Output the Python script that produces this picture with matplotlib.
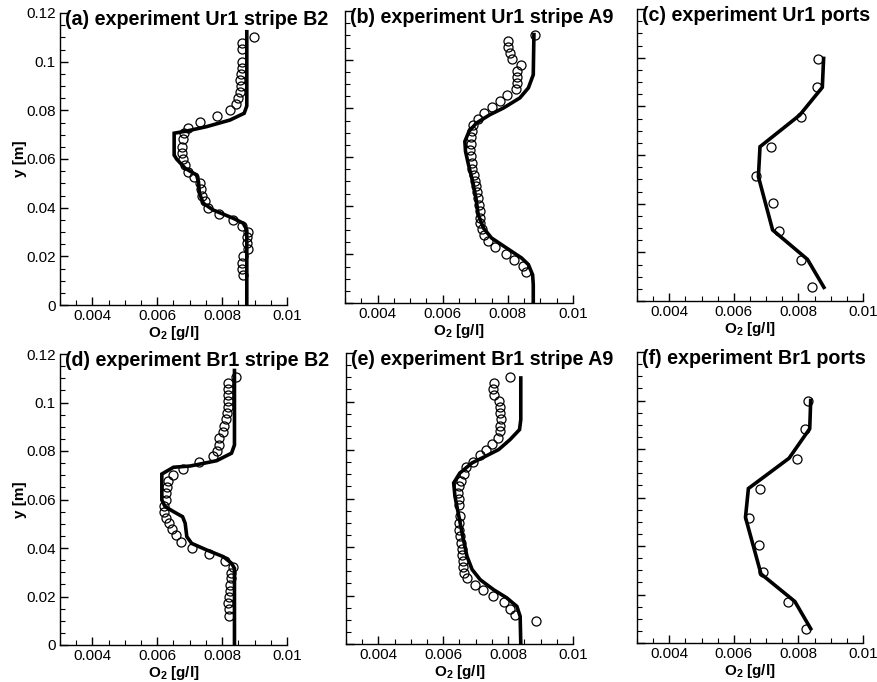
import matplotlib
matplotlib.use('Agg')
import matplotlib.pyplot as plt
from matplotlib.ticker import MultipleLocator, FormatStrFormatter

plt.rcParams['font.family'] = ['Liberation Sans', 'DejaVu Sans']
plt.rcParams['mathtext.fontset'] = 'custom'
plt.rcParams['mathtext.rm'] = 'Liberation Sans'
plt.rcParams['mathtext.bf'] = 'Liberation Sans:bold'

# (a) experiment Ur1 stripe B2
a_line_o2 = [0.00876, 0.00876, 0.00868, 0.00824, 0.00752, 0.00691, 0.00652, 0.00652, 0.0066, 0.00686,
             0.00721, 0.00727, 0.0073, 0.00742, 0.00773, 0.00835, 0.00865, 0.00876, 0.00876]
a_line_y = [0.1123, 0.0818, 0.0788, 0.0760, 0.0733, 0.0715, 0.0706, 0.0616, 0.0599, 0.0562,
            0.0534, 0.0507, 0.0459, 0.0418, 0.0390, 0.0356, 0.0336, 0.0308, 0.0]
a_obs_o2 = [0.00898, 0.0086, 0.00862, 0.0086, 0.00862, 0.00857, 0.00855, 0.00857, 0.00855, 0.0085,
            0.00843, 0.00824, 0.00785, 0.00732, 0.00696, 0.00683, 0.00678, 0.00675, 0.00675, 0.0068,
            0.00686, 0.00694, 0.00714, 0.00732, 0.00735, 0.00739, 0.00747, 0.00757, 0.0079, 0.00835,
            0.00862, 0.00881, 0.00878, 0.00878, 0.00881, 0.00865, 0.00862, 0.00862, 0.00865]
a_obs_y = [0.1103, 0.1078, 0.1051, 0.1, 0.0973, 0.0949, 0.0925, 0.09, 0.0877, 0.0849,
           0.0826, 0.0801, 0.0777, 0.0752, 0.0729, 0.0706, 0.0681, 0.0651, 0.0623, 0.0599,
           0.0575, 0.0548, 0.0525, 0.05, 0.0475, 0.0449, 0.0427, 0.0397, 0.0375, 0.0349,
           0.0325, 0.0301, 0.0278, 0.0253, 0.0229, 0.0201, 0.0171, 0.0147, 0.0123]

# (b) experiment Ur1 stripe A9
b_line_o2 = [0.0088, 0.00878, 0.00863, 0.00837, 0.00786, 0.00745, 0.00704, 0.00681, 0.00668, 0.0067, 0.00679,
             0.00692, 0.00702, 0.00709, 0.00725, 0.0075, 0.00796, 0.00842, 0.00863, 0.00876, 0.00878, 0.00878]
b_line_y = [0.1103, 0.0938, 0.0884, 0.0843, 0.0801, 0.0774, 0.074, 0.0706, 0.0664, 0.0623, 0.0569,
            0.05, 0.0432, 0.0363, 0.0308, 0.0267, 0.0226, 0.0185, 0.0158, 0.0116, 0.0075, 0.0]
b_obs_o2 = [0.00883, 0.00799, 0.00801, 0.00806, 0.00812, 0.0084, 0.00827, 0.00827, 0.00827, 0.00825,
            0.00796, 0.00776, 0.00752, 0.00728, 0.00709, 0.00694, 0.00689, 0.00686, 0.00686, 0.00685,
            0.00686, 0.00689, 0.00691, 0.00696, 0.00699, 0.00701, 0.00704, 0.00709, 0.00711, 0.00714,
            0.00714, 0.00716, 0.00722, 0.00728, 0.0074, 0.0076, 0.00793, 0.00819, 0.00845, 0.00856]
b_obs_y = [0.1103, 0.1078, 0.1052, 0.1027, 0.1003, 0.0979, 0.0955, 0.0929, 0.0904, 0.0881,
           0.0853, 0.0829, 0.0804, 0.0781, 0.0758, 0.073, 0.0706, 0.0681, 0.0653, 0.0627,
           0.0603, 0.0575, 0.0551, 0.0527, 0.0503, 0.048, 0.0455, 0.0432, 0.0404, 0.0377,
           0.0349, 0.0327, 0.0303, 0.0278, 0.0253, 0.0229, 0.0203, 0.0178, 0.0153, 0.0127]

# (c) experiment Ur1 ports
c_line_o2 = [0.00878, 0.00874, 0.00804, 0.00681, 0.00676, 0.0072, 0.00828, 0.00879]
c_line_y = [0.0997, 0.0878, 0.0764, 0.0634, 0.0511, 0.0292, 0.0171, 0.0056]
c_obs_o2 = [0.00861, 0.00859, 0.00809, 0.00714, 0.0067, 0.00722, 0.0074, 0.00809, 0.00843]
c_obs_y = [0.0995, 0.0881, 0.0758, 0.0634, 0.0514, 0.0404, 0.0289, 0.0169, 0.0059]

# (d) experiment Br1 stripe B2
d_line_o2 = [0.00838, 0.00838, 0.00829, 0.00783, 0.00701, 0.0065, 0.00614, 0.00614, 0.00624, 0.0065,
             0.00678, 0.00686, 0.00691, 0.00706, 0.00752, 0.00804, 0.00829, 0.00838, 0.00838]
d_line_y = [0.1132, 0.0825, 0.0791, 0.076, 0.0738, 0.0733, 0.0705, 0.0598, 0.0571, 0.055,
            0.0529, 0.0502, 0.0447, 0.0419, 0.0392, 0.0364, 0.0337, 0.0316, 0.0]
d_obs_o2 = [0.00843, 0.00819, 0.00819, 0.00819, 0.00819, 0.00819, 0.00816, 0.00811, 0.00806, 0.00802,
            0.00791, 0.00791, 0.00783, 0.00773, 0.0073, 0.0068, 0.00647, 0.00634, 0.00629, 0.00626,
            0.00626, 0.00621, 0.00622, 0.00627, 0.00637, 0.00646, 0.00657, 0.00672, 0.00706, 0.00761,
            0.00809, 0.00835, 0.00827, 0.00826, 0.00824, 0.00824, 0.00821, 0.00817, 0.0082, 0.00822]
d_obs_y = [0.1104, 0.1079, 0.1055, 0.1031, 0.1007, 0.098, 0.0956, 0.0931, 0.0903, 0.088,
           0.0853, 0.0825, 0.0802, 0.078, 0.0754, 0.0725, 0.0701, 0.0678, 0.0653, 0.0626,
           0.0598, 0.0575, 0.055, 0.0525, 0.0502, 0.0477, 0.0454, 0.0425, 0.0399, 0.0374,
           0.0348, 0.0323, 0.0298, 0.0275, 0.0248, 0.0223, 0.0199, 0.0172, 0.0147, 0.012]

# (e) experiment Br1 stripe A9
e_line_o2 = [0.00839, 0.00839, 0.00835, 0.00806, 0.00771, 0.0073, 0.00689, 0.00651, 0.00632, 0.00636,
             0.00648, 0.0066, 0.00673, 0.00689, 0.00714, 0.00755, 0.00796, 0.00827, 0.00837, 0.00839]
e_line_y = [0.1097, 0.0925, 0.0884, 0.0843, 0.0802, 0.0774, 0.0747, 0.0705, 0.0664, 0.0609,
            0.0527, 0.0444, 0.0362, 0.0307, 0.0265, 0.0224, 0.019, 0.0155, 0.0114, 0.0]
e_obs_o2 = [0.00806, 0.00755, 0.00753, 0.00757, 0.00771, 0.00774, 0.00776, 0.00778, 0.00776, 0.00776,
            0.00768, 0.0075, 0.00733, 0.00714, 0.00692, 0.00671, 0.00663, 0.00655, 0.0065, 0.00646,
            0.00648, 0.00648, 0.00653, 0.00648, 0.00648, 0.00653, 0.00655, 0.00658, 0.00658, 0.00661,
            0.00661, 0.00663, 0.00673, 0.00699, 0.00721, 0.00752, 0.00786, 0.00806, 0.0082, 0.00886]
e_obs_y = [0.1101, 0.1077, 0.1052, 0.1026, 0.1001, 0.0976, 0.0953, 0.0928, 0.0901, 0.0877,
           0.085, 0.0825, 0.0802, 0.0778, 0.0751, 0.0729, 0.0699, 0.0674, 0.065, 0.0623,
           0.0598, 0.0572, 0.0527, 0.0499, 0.0472, 0.0444, 0.0417, 0.0392, 0.0369, 0.0341,
           0.0316, 0.0293, 0.0272, 0.0245, 0.0224, 0.0199, 0.0172, 0.0144, 0.0121, 0.0096]

# (f) experiment Br1 ports
f_line_o2 = [0.00838, 0.00835, 0.00771, 0.00645, 0.00636, 0.00684, 0.00789, 0.00838]
f_line_y = [0.1, 0.0884, 0.0762, 0.0637, 0.0518, 0.0285, 0.0171, 0.0059]
f_obs_o2 = [0.0083, 0.0082, 0.00796, 0.00681, 0.00648, 0.00679, 0.00691, 0.00768, 0.00823]
f_obs_y = [0.0997, 0.0884, 0.076, 0.0634, 0.0515, 0.0404, 0.0292, 0.0171, 0.0059]

titles = ['(a) experiment Ur1 stripe B2', '(b) experiment Ur1 stripe A9', '(c) experiment Ur1 ports',
          '(d) experiment Br1 stripe B2', '(e) experiment Br1 stripe A9', '(f) experiment Br1 ports']
panels = [(a_line_o2, a_line_y, a_obs_o2, a_obs_y),
          (b_line_o2, b_line_y, b_obs_o2, b_obs_y),
          (c_line_o2, c_line_y, c_obs_o2, c_obs_y),
          (d_line_o2, d_line_y, d_obs_o2, d_obs_y),
          (e_line_o2, e_line_y, e_obs_o2, e_obs_y),
          (f_line_o2, f_line_y, f_obs_o2, f_obs_y)]

# axes boxes in pixels: left, right, y of bottom, y of top
W, H = 878, 682
boxes = [(60, 287, 305, 13), (345, 573, 303, 11), (637, 863, 301, 9),
         (60, 287, 645, 354), (346, 573, 644, 353), (637, 863, 643, 352)]

fig = plt.figure(figsize=(W / 100, H / 100), dpi=100)

for i, (box, title, (lx, ly, ox, oy)) in enumerate(zip(boxes, titles, panels)):
    l, r, b, t = box
    ax = fig.add_axes([l / W, (H - b) / H, (r - l) / W, (b - t) / H])
    ax.plot(lx, ly, c='black', lw=2.6, solid_joinstyle='miter', zorder=2)
    ax.plot(ox, oy, 'o', ms=6.5, mfc='none', mec='black', mew=0.9, zorder=3)

    ax.set_xlim(0.003, 0.01)
    ax.set_ylim(0, 0.12)
    for s in ['top', 'right']:
        ax.spines[s].set_visible(False)
    for s in ['left', 'bottom']:
        ax.spines[s].set_linewidth(1.0)

    ax.xaxis.set_major_locator(MultipleLocator(0.002))
    ax.xaxis.set_minor_locator(MultipleLocator(0.0005))
    ax.yaxis.set_major_locator(MultipleLocator(0.02))
    ax.yaxis.set_minor_locator(MultipleLocator(0.005))
    ax.xaxis.set_major_formatter(FormatStrFormatter('%g'))
    ax.yaxis.set_major_formatter(FormatStrFormatter('%g'))
    ax.tick_params(which='major', direction='in', length=6, width=1.0, labelsize=11, pad=3)
    ax.tick_params(which='minor', direction='in', length=3.5, width=0.8)
    ax.tick_params(top=False, right=False)

    ax.set_xlabel(r'$\mathbf{O_2}$ [g/l]', fontsize=11, fontweight='bold')
    ax.xaxis.set_label_coords(0.5, -0.064)
    if i % 3 == 0:
        ax.set_ylabel('y [m]', fontsize=11, fontweight='bold')
        ax.yaxis.set_label_coords(-0.145, 0.5)
    else:
        ax.tick_params(labelleft=False)

    ax.text(0.022, 0.958, title, transform=ax.transAxes, fontsize=14.2, fontweight='bold',
            ha='left', va='baseline', clip_on=False)

fig.savefig('out.png', dpi=100)
